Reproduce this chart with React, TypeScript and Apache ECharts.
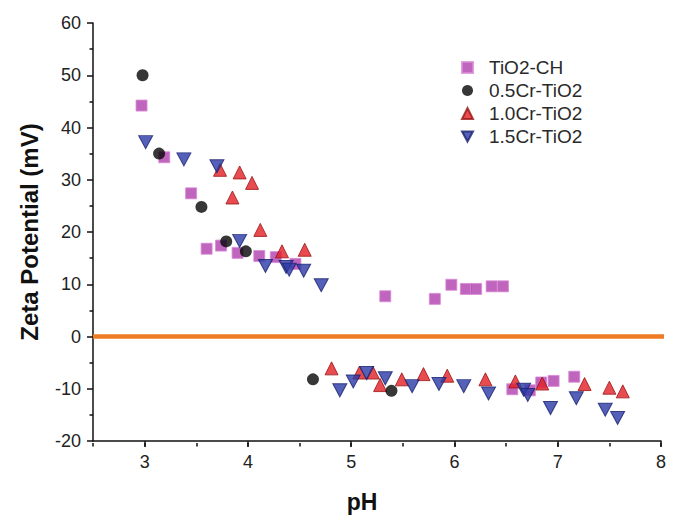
import React, { useEffect, useRef } from "react";
import * as echarts from "echarts";

const phTiO2CH = [2.97, 3.19, 3.45, 3.60, 3.74, 3.90, 4.11, 4.27, 4.46, 5.33, 5.81, 5.97, 6.11, 6.21, 6.36, 6.47, 6.56, 6.73, 6.84, 6.96, 7.16];
const zpTiO2CH = [44.2, 34.3, 27.4, 16.8, 17.4, 16.0, 15.4, 15.2, 13.9, 7.7, 7.2, 9.9, 9.1, 9.1, 9.6, 9.6, -10.1, -10.3, -8.8, -8.5, -7.7];

const ph05Cr = [2.98, 3.14, 3.55, 3.79, 3.98, 4.63, 5.39];
const zp05Cr = [50.0, 35.0, 24.8, 18.2, 16.3, -8.2, -10.4];

const ph10Cr = [3.73, 3.85, 3.92, 4.04, 4.12, 4.33, 4.55, 4.81, 5.08, 5.21, 5.28, 5.49, 5.70, 5.93, 6.30, 6.59, 6.85, 7.26, 7.50, 7.63];
const zp10Cr = [31.9, 26.6, 31.4, 29.4, 20.4, 16.3, 16.6, -6.1, -6.9, -6.9, -9.3, -8.2, -7.2, -7.5, -8.2, -8.6, -9.0, -9.1, -9.8, -10.5];

const ph15Cr = [3.01, 3.38, 3.70, 3.92, 4.17, 4.37, 4.40, 4.54, 4.71, 4.89, 5.02, 5.15, 5.33, 5.59, 5.85, 6.09, 6.33, 6.67, 6.71, 6.93, 7.18, 7.46, 7.58];
const zp15Cr = [37.2, 33.9, 32.6, 18.3, 13.5, 13.3, 12.8, 12.6, 9.8, -10.3, -8.6, -7.0, -8.0, -9.5, -9.1, -9.5, -10.9, -10.2, -11.2, -13.7, -11.8, -14.0, -15.6];

const seriesNames = ["TiO2-CH", "0.5Cr-TiO2", "1.0Cr-TiO2", "1.5Cr-TiO2"];
const xMajorTicks = [3, 4, 5, 6, 7, 8];
const zeroLinePh = [2.5, 8.22];
const zeroLineZp = [0, 0];

const zip = (a: number[], b: number[]) => a.map((v, i) => [v, b[i]]);

const FONT = "'Liberation Sans', Arial, sans-serif";
const DOWN_TRIANGLE = "path://M0,0 L12,0 L6,11 Z";

export default function App() {
  const ref = useRef<HTMLDivElement>(null);
  useEffect(() => {
    if (!ref.current) return;
    const chart = echarts.init(ref.current, null, { renderer: "svg" });
    const gridRect = { left: 93, right: 22, top: 23, bottom: 75 };
    const option: any = {
      animation: false,
      backgroundColor: "#ffffff",
      textStyle: { fontFamily: FONT },
      grid: [
        { ...gridRect, containLabel: false },
        { ...gridRect, containLabel: false },
      ],
      legend: {
        orient: "vertical",
        left: 456,
        top: 53,
        itemWidth: 11,
        itemHeight: 11,
        itemGap: 4,
        data: seriesNames,
        textStyle: { fontFamily: FONT, fontSize: 19, color: "#2a2a2a", padding: [0, 0, 0, 11] },
      },
      xAxis: [
        {
          type: "value",
          gridIndex: 0,
          min: 2.5,
          max: 8,
          interval: 0.5,
          name: "pH",
          nameLocation: "middle",
          nameGap: 49,
          nameTextStyle: { fontFamily: FONT, fontSize: 23, fontWeight: "bold", color: "#111", padding: [0, 30, 0, 0] },
          axisLine: { show: true, onZero: false, lineStyle: { color: "#111", width: 1.5 } },
          axisTick: { show: true, length: 6, lineStyle: { color: "#111", width: 1.5 }, customValues: xMajorTicks },
          axisLabel: { show: true, fontFamily: FONT, fontSize: 18, color: "#222", margin: 12, customValues: xMajorTicks },
          splitLine: { show: false },
        },
        {
          type: "value",
          gridIndex: 1,
          min: 2.5,
          max: 8,
          interval: 0.5,
          axisLine: { show: false, onZero: false },
          axisTick: { show: true, length: 3.5, lineStyle: { color: "#111", width: 1.5 } },
          axisLabel: { show: false },
          splitLine: { show: false },
        },
      ],
      yAxis: [
        {
          type: "value",
          gridIndex: 0,
          min: -20,
          max: 60,
          interval: 10,
          name: "Zeta Potential (mV)",
          nameLocation: "middle",
          nameGap: 52,
          nameTextStyle: { fontFamily: FONT, fontSize: 24, fontWeight: "bold", color: "#111" },
          axisLine: { show: true, onZero: false, lineStyle: { color: "#111", width: 1.5 } },
          axisTick: { show: true, length: 6, lineStyle: { color: "#111", width: 1.5 } },
          minorTick: { show: true, splitNumber: 2, length: 3.5, lineStyle: { color: "#111", width: 1.5 } },
          axisLabel: { fontFamily: FONT, fontSize: 18, color: "#222", margin: 12 },
          splitLine: { show: false },
        },
        {
          type: "value",
          gridIndex: 1,
          min: -20,
          max: 60,
          show: false,
        },
      ],
      series: [
        {
          name: "zero",
          type: "line",
          xAxisIndex: 0,
          yAxisIndex: 0,
          data: zip(zeroLinePh, zeroLineZp),
          symbol: "none",
          clip: false,
          silent: true,
          z: 1,
          lineStyle: { color: "#ef7b22", width: 4.5 },
        },
        {
          name: seriesNames[0],
          type: "scatter",
          data: zip(phTiO2CH, zpTiO2CH),
          symbol: "rect",
          symbolSize: 11,
          z: 3,
          itemStyle: { color: "#b03fae", borderColor: "#d98ad6", borderWidth: 1 },
        },
        {
          name: seriesNames[1],
          type: "scatter",
          data: zip(ph05Cr, zp05Cr),
          symbol: "circle",
          symbolSize: 12,
          z: 4,
          itemStyle: { color: "#050505" },
        },
        {
          name: seriesNames[2],
          type: "scatter",
          data: zip(ph10Cr, zp10Cr),
          symbol: "triangle",
          symbolSize: 13,
          z: 3,
          itemStyle: { color: "#e21f26", borderColor: "#9a1414", borderWidth: 1 },
        },
        {
          name: seriesNames[3],
          type: "scatter",
          data: zip(ph15Cr, zp15Cr),
          symbol: DOWN_TRIANGLE,
          symbolSize: [14, 13],
          z: 3,
          itemStyle: { color: "#2a3aa6", borderColor: "#18206e", borderWidth: 1 },
        },
      ],
    };
    chart.setOption(option);
    return () => chart.dispose();
  }, []);
  return <div ref={ref} style={{ width: 683, height: 518, position: "absolute", left: 0, top: 0 }} />;
}
